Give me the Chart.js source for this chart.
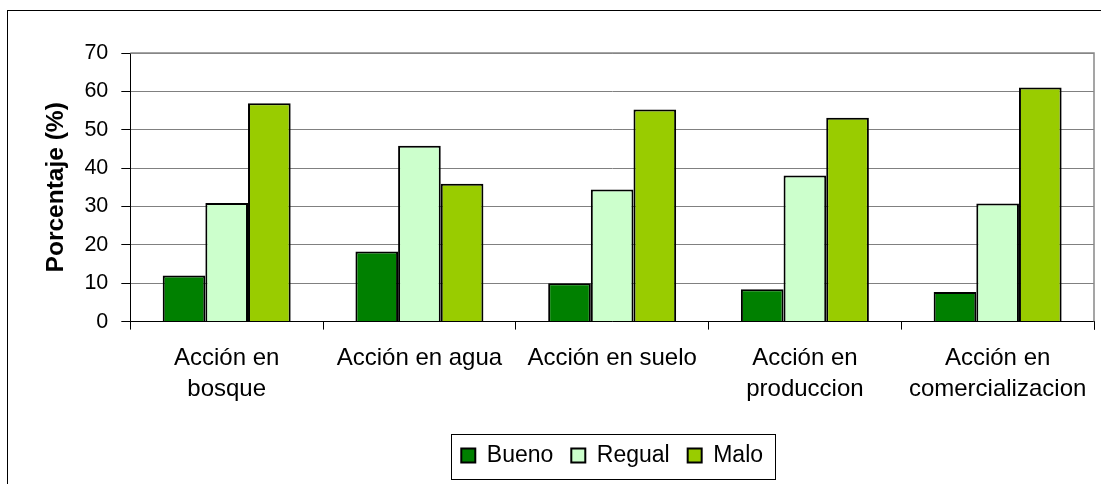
<!DOCTYPE html>
<html>
<head>
<meta charset="utf-8">
<script src="https://cdn.jsdelivr.net/npm/chart.js@4.4.0/dist/chart.umd.min.js"></script>
<style>
  html, body { margin: 0; padding: 0; background: #fff; }
  #wrap { width: 1101px; height: 484px; position: relative; }
</style>
</head>
<body>
<div id="wrap"><canvas id="chart" width="1101" height="484"></canvas></div>
<script>
// data
const categories = [
  ['Acción en', 'bosque'],
  'Acción en agua',
  'Acción en suelo',
  ['Acción en', 'produccion'],
  ['Acción en', 'comercializacion']
];
const bueno = [12, 18.3, 10, 8.4, 7.7];
const regual = [30.9, 45.8, 34.4, 38.1, 30.8];
const malo = [56.9, 35.9, 55.3, 53.1, 61];
const yTicks = [0, 10, 20, 30, 40, 50, 60, 70];

const FONT = 'Liberation Sans, Arial, sans-serif';

// outer frame, plot border on top/right, border round the legend
const framePlugin = {
  id: 'frame',
  beforeDraw(chart) {
    const ctx = chart.ctx;
    ctx.save();
    ctx.fillStyle = '#fff';
    ctx.fillRect(0, 0, chart.width, chart.height);
    ctx.strokeStyle = '#000';
    ctx.lineWidth = 1;
    ctx.strokeRect(7.5, 10.5, 1200, 500);
    ctx.restore();
  },
  afterDraw(chart) {
    const ctx = chart.ctx;
    const a = chart.chartArea;
    ctx.save();
    ctx.strokeStyle = '#888';
    ctx.lineWidth = 1.5;
    ctx.beginPath();
    ctx.moveTo(a.left, a.top);
    ctx.lineTo(a.right, a.top);
    ctx.lineTo(a.right, a.bottom);
    ctx.stroke();
    // tick at the right end of the x axis
    ctx.strokeStyle = '#000';
    ctx.lineWidth = 1;
    ctx.beginPath();
    ctx.moveTo(Math.round(a.right) + 0.5, a.bottom);
    ctx.lineTo(Math.round(a.right) + 0.5, a.bottom + 8);
    ctx.stroke();

    const boxes = chart.legend.legendHitBoxes;
    if (boxes && boxes.length) {
      const first = boxes[0], last = boxes[boxes.length - 1];
      const x1 = Math.round(first.left - 10) + 0.5;
      const x2 = Math.round(last.left + last.width + 12) + 0.5;
      const y1 = Math.round(first.top + first.height / 2 - 22) + 0.5;
      const y2 = y1 + 45;
      ctx.strokeStyle = '#000';
      ctx.strokeRect(x1, y1, x2 - x1, y2 - y1);
    }
    ctx.restore();
  }
};

new Chart(document.getElementById('chart'), {
  type: 'bar',
  data: {
    labels: categories,
    datasets: [
      { label: 'Bueno', data: bueno, backgroundColor: '#008000', borderColor: '#000', borderWidth: 2 },
      { label: 'Regual', data: regual, backgroundColor: '#CCFFCC', borderColor: '#000', borderWidth: 2 },
      { label: 'Malo', data: malo, backgroundColor: '#99CC00', borderColor: '#000', borderWidth: 2 }
    ]
  },
  options: {
    responsive: false,
    animation: false,
    devicePixelRatio: 1,
    layout: { padding: { left: 42, right: 7, top: 53, bottom: 7 } },
    datasets: { bar: { categoryPercentage: 0.664, barPercentage: 1 } },
    plugins: {
      legend: {
        position: 'bottom',
        fullSize: false,
        labels: {
          font: { family: FONT, size: 23 },
          color: '#000',
          boxWidth: 14,
          boxHeight: 14,
          padding: 18
        }
      },
      tooltip: { enabled: false }
    },
    scales: {
      x: {
        afterFit(scale) { scale.height += 8; },
        grid: { display: true, drawOnChartArea: false, drawTicks: true, tickLength: 8, offset: true, color: '#000' },
        border: { display: true, color: '#000', width: 1 },
        ticks: {
          font: { family: FONT, size: 24, lineHeight: 1.3 },
          color: '#000',
          padding: 13,
          maxRotation: 0,
          autoSkip: false
        }
      },
      y: {
        min: 0,
        max: 70,
        afterBuildTicks(axis) { axis.ticks = yTicks.map(v => ({ value: v })); },
        grid: { color: '#808080', lineWidth: 1, tickLength: 9, tickColor: '#000' },
        border: { display: true, color: '#000', width: 1 },
        ticks: {
          font: { family: FONT, size: 21.5 },
          color: '#000',
          padding: 13
        },
        title: {
          display: true,
          text: 'Porcentaje (%)',
          font: { family: FONT, size: 24.5, weight: 'bold' },
          color: '#000',
          padding: { top: 0, bottom: 0 }
        }
      }
    }
  },
  plugins: [framePlugin]
});
</script>
</body>
</html>
